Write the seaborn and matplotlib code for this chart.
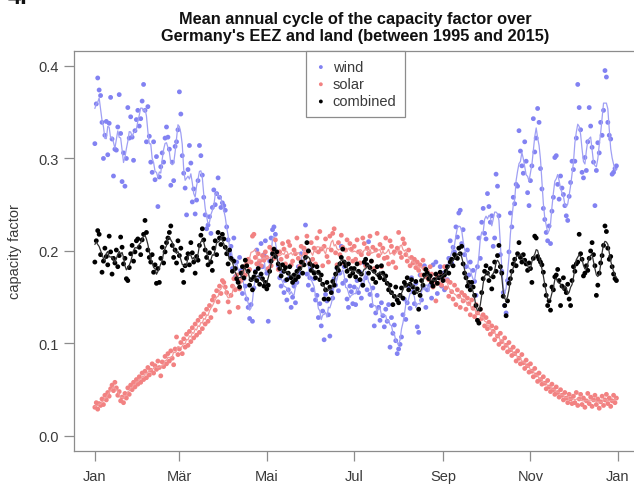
import numpy as np
import pandas as pd
import matplotlib
matplotlib.use("Agg")
import matplotlib.pyplot as plt
import seaborn as sns

# daily mean capacity factor, 1 Jan .. 31 Dec
wind = [
    # Jan
    0.316, 0.359, 0.387, 0.374, 0.368, 0.339, 0.300, 0.325, 0.340, 0.304,
    0.338, 0.366, 0.321, 0.281, 0.310, 0.309, 0.334, 0.369, 0.327, 0.275,
    0.306, 0.270, 0.300, 0.355, 0.322, 0.345, 0.323, 0.298, 0.330, 0.342, 0.352,
    # Feb
    0.335, 0.343, 0.362, 0.380, 0.352, 0.318, 0.356, 0.324, 0.296, 0.285,
    0.318, 0.277, 0.302, 0.248, 0.280, 0.291, 0.306, 0.296, 0.322, 0.334,
    0.323, 0.310, 0.271, 0.296, 0.276, 0.313, 0.318, 0.331,
    # Mar
    0.372, 0.348, 0.303, 0.284, 0.268, 0.239, 0.288, 0.314, 0.295, 0.253,
    0.267, 0.240, 0.255, 0.276, 0.314, 0.303, 0.282, 0.258, 0.239, 0.224,
    0.228, 0.237, 0.219, 0.247, 0.266, 0.250, 0.262, 0.279, 0.258, 0.247, 0.252,
    # Apr
    0.249, 0.244, 0.226, 0.212, 0.196, 0.205, 0.181, 0.214, 0.172, 0.188,
    0.167, 0.193, 0.179, 0.154, 0.170, 0.162, 0.148, 0.139, 0.127, 0.142,
    0.124, 0.160, 0.178, 0.201, 0.186, 0.172, 0.208, 0.183, 0.196, 0.211,
    # May
    0.176, 0.124, 0.189, 0.214, 0.223, 0.226, 0.218, 0.196, 0.184, 0.171,
    0.162, 0.178, 0.155, 0.168, 0.147, 0.158, 0.171, 0.139, 0.150, 0.162,
    0.144, 0.166, 0.183, 0.176, 0.197, 0.188, 0.202, 0.228, 0.175, 0.163, 0.171,
    # Jun
    0.181, 0.158, 0.170, 0.147, 0.152, 0.128, 0.143, 0.119, 0.135, 0.104,
    0.153, 0.146, 0.131, 0.108, 0.158, 0.149, 0.170, 0.163, 0.181, 0.157,
    0.176, 0.205, 0.165, 0.183, 0.168, 0.148, 0.139, 0.162, 0.156, 0.143,
    # Jul
    0.161, 0.142, 0.168, 0.155, 0.177, 0.149, 0.163, 0.187, 0.171, 0.158,
    0.210, 0.153, 0.141, 0.160, 0.119, 0.133, 0.152, 0.139, 0.125, 0.144,
    0.130, 0.118, 0.137, 0.124, 0.142, 0.096, 0.128, 0.111, 0.120, 0.103, 0.089,
    # Aug
    0.094, 0.099, 0.107, 0.131, 0.148, 0.126, 0.144, 0.162, 0.138, 0.171,
    0.156, 0.143, 0.165, 0.118, 0.112, 0.174, 0.147, 0.161, 0.184, 0.139,
    0.158, 0.172, 0.163, 0.149, 0.185, 0.166, 0.188, 0.154, 0.171, 0.183, 0.162,
    # Sep
    0.176, 0.158, 0.183, 0.169, 0.192, 0.211, 0.187, 0.204, 0.199, 0.226,
    0.215, 0.241, 0.244, 0.208, 0.223, 0.196, 0.183, 0.201, 0.174, 0.188,
    0.161, 0.179, 0.167, 0.152, 0.183, 0.214, 0.192, 0.231, 0.246, 0.219,
    # Oct
    0.213, 0.262, 0.248, 0.231, 0.238, 0.205, 0.214, 0.283, 0.270, 0.238,
    0.196, 0.178, 0.155, 0.141, 0.133, 0.168, 0.199, 0.241, 0.226, 0.258,
    0.251, 0.272, 0.270, 0.330, 0.308, 0.292, 0.284, 0.318, 0.297, 0.263, 0.249,
    # Nov
    0.276, 0.292, 0.343, 0.307, 0.322, 0.354, 0.339, 0.289, 0.267, 0.246,
    0.234, 0.220, 0.211, 0.227, 0.208, 0.243, 0.258, 0.301, 0.303, 0.272,
    0.256, 0.281, 0.268, 0.261, 0.249, 0.238, 0.233, 0.259, 0.274, 0.297,
    # Dec
    0.288, 0.297, 0.322, 0.380, 0.355, 0.331, 0.285, 0.279, 0.301, 0.287,
    0.318, 0.355, 0.335, 0.312, 0.296, 0.249, 0.287, 0.317, 0.306, 0.339,
    0.325, 0.352, 0.395, 0.388, 0.339, 0.325, 0.321, 0.283, 0.285, 0.289, 0.292,
]

solar = [
    # Jan
    0.031, 0.036, 0.029, 0.035, 0.033, 0.040, 0.034, 0.044, 0.039, 0.047,
    0.043, 0.051, 0.055, 0.049, 0.058, 0.052, 0.044, 0.048, 0.038, 0.042,
    0.036, 0.046, 0.041, 0.052, 0.045, 0.055, 0.050, 0.058, 0.053, 0.061, 0.056,
    # Feb
    0.064, 0.058, 0.068, 0.061, 0.070, 0.063, 0.074, 0.066, 0.071, 0.078,
    0.068, 0.076, 0.072, 0.081, 0.074, 0.065, 0.080, 0.075, 0.086, 0.078,
    0.089, 0.081, 0.092, 0.084, 0.077, 0.094, 0.107, 0.088,
    # Mar
    0.094, 0.101, 0.089, 0.105, 0.096, 0.110, 0.098, 0.113, 0.102, 0.117,
    0.106, 0.121, 0.109, 0.125, 0.112, 0.129, 0.116, 0.132, 0.121, 0.137,
    0.124, 0.141, 0.128, 0.147, 0.151, 0.136, 0.157, 0.145, 0.162, 0.154, 0.168,
    # Apr
    0.166, 0.161, 0.155, 0.145, 0.134, 0.152, 0.162, 0.170, 0.158, 0.174,
    0.139, 0.159, 0.168, 0.177, 0.183, 0.174, 0.186, 0.191, 0.180, 0.188,
    0.216, 0.218, 0.193, 0.186, 0.197, 0.189, 0.184, 0.195, 0.190, 0.199,
    # May
    0.193, 0.181, 0.204, 0.184, 0.201, 0.192, 0.212, 0.196, 0.180, 0.199,
    0.191, 0.208, 0.202, 0.186, 0.194, 0.210, 0.206, 0.185, 0.189, 0.201,
    0.197, 0.214, 0.192, 0.183, 0.205, 0.188, 0.203, 0.197, 0.216, 0.200, 0.187,
    # Jun
    0.209, 0.191, 0.203, 0.186, 0.214, 0.199, 0.221, 0.202, 0.184, 0.205,
    0.213, 0.194, 0.188, 0.216, 0.201, 0.219, 0.224, 0.198, 0.185, 0.209,
    0.196, 0.217, 0.204, 0.187, 0.201, 0.212, 0.192, 0.208, 0.202, 0.189,
    # Jul
    0.205, 0.191, 0.212, 0.199, 0.187, 0.196, 0.214, 0.208, 0.184, 0.203,
    0.197, 0.216, 0.189, 0.204, 0.181, 0.201, 0.219, 0.195, 0.207, 0.183,
    0.203, 0.192, 0.214, 0.193, 0.186, 0.211, 0.205, 0.188, 0.199, 0.182, 0.203,
    # Aug
    0.220, 0.198, 0.193, 0.213, 0.208, 0.196, 0.189, 0.201, 0.184, 0.193,
    0.187, 0.191, 0.182, 0.188, 0.179, 0.185, 0.174, 0.190, 0.181, 0.172,
    0.178, 0.169, 0.183, 0.175, 0.161, 0.168, 0.146, 0.172, 0.165, 0.176, 0.163,
    # Sep
    0.172, 0.183, 0.160, 0.168, 0.151, 0.166, 0.156, 0.148, 0.163, 0.142,
    0.158, 0.151, 0.139, 0.155, 0.146, 0.152, 0.137, 0.149, 0.143, 0.131,
    0.147, 0.138, 0.129, 0.142, 0.133, 0.124, 0.137, 0.127, 0.131, 0.119,
    # Oct
    0.128, 0.116, 0.123, 0.110, 0.119, 0.113, 0.104, 0.117, 0.108, 0.099,
    0.111, 0.102, 0.095, 0.106, 0.098, 0.091, 0.101, 0.093, 0.087, 0.096,
    0.089, 0.081, 0.092, 0.084, 0.078, 0.088, 0.079, 0.073, 0.082, 0.076, 0.069,
    # Nov
    0.078, 0.070, 0.064, 0.073, 0.066, 0.059, 0.068, 0.061, 0.056, 0.064,
    0.057, 0.051, 0.060, 0.053, 0.048, 0.056, 0.050, 0.045, 0.053, 0.047,
    0.042, 0.050, 0.044, 0.039, 0.047, 0.041, 0.036, 0.045, 0.040, 0.035,
    # Dec
    0.043, 0.036, 0.047, 0.033, 0.040, 0.045, 0.034, 0.041, 0.031, 0.038,
    0.046, 0.035, 0.042, 0.032, 0.039, 0.044, 0.034, 0.040, 0.030, 0.037,
    0.043, 0.033, 0.039, 0.045, 0.035, 0.041, 0.032, 0.038, 0.044, 0.036, 0.041,
]

combined = [
    # Jan
    0.188, 0.211, 0.222, 0.218, 0.196, 0.177, 0.189, 0.203, 0.194, 0.185,
    0.216, 0.199, 0.175, 0.192, 0.187, 0.201, 0.183, 0.195, 0.215, 0.204,
    0.186, 0.192, 0.170, 0.168, 0.182, 0.197, 0.206, 0.189, 0.199, 0.211, 0.213,
    # Feb
    0.204, 0.196, 0.212, 0.218, 0.233, 0.220, 0.201, 0.193, 0.188, 0.196,
    0.177, 0.185, 0.165, 0.181, 0.166, 0.192, 0.204, 0.187, 0.199, 0.209,
    0.214, 0.220, 0.227, 0.206, 0.193, 0.201, 0.187, 0.211,
    # Mar
    0.195, 0.203, 0.179, 0.166, 0.184, 0.192, 0.197, 0.185, 0.209, 0.198,
    0.188, 0.176, 0.194, 0.190, 0.206, 0.217, 0.224, 0.212, 0.201, 0.193,
    0.185, 0.198, 0.188, 0.179, 0.203, 0.211, 0.196, 0.220, 0.214, 0.207, 0.218,
    # Apr
    0.213, 0.204, 0.197, 0.186, 0.201, 0.192, 0.178, 0.189, 0.181, 0.170,
    0.166, 0.161, 0.176, 0.183, 0.171, 0.190, 0.184, 0.178, 0.163, 0.169,
    0.158, 0.172, 0.177, 0.168, 0.181, 0.164, 0.175, 0.170, 0.162, 0.166,
    # May
    0.159, 0.163, 0.178, 0.189, 0.197, 0.202, 0.194, 0.199, 0.186, 0.181,
    0.173, 0.185, 0.178, 0.182, 0.169, 0.176, 0.183, 0.171, 0.166, 0.174,
    0.169, 0.178, 0.172, 0.181, 0.188, 0.176, 0.185, 0.193, 0.209, 0.200, 0.186,
    # Jun
    0.179, 0.184, 0.176, 0.171, 0.183, 0.177, 0.169, 0.174, 0.164, 0.148,
    0.158, 0.166, 0.148, 0.161, 0.155, 0.167, 0.163, 0.175, 0.182, 0.179,
    0.186, 0.193, 0.202, 0.188, 0.184, 0.178, 0.186, 0.173, 0.181, 0.176,
    # Jul
    0.181, 0.172, 0.186, 0.178, 0.169, 0.175, 0.163, 0.188, 0.191, 0.185,
    0.176, 0.182, 0.189, 0.170, 0.178, 0.166, 0.183, 0.174, 0.171, 0.184,
    0.176, 0.169, 0.173, 0.165, 0.158, 0.163, 0.155, 0.142, 0.151, 0.161, 0.147,
    # Aug
    0.144, 0.152, 0.160, 0.149, 0.166, 0.163, 0.171, 0.158, 0.164, 0.169,
    0.161, 0.155, 0.167, 0.159, 0.137, 0.152, 0.168, 0.163, 0.174, 0.180,
    0.176, 0.170, 0.173, 0.166, 0.162, 0.169, 0.175, 0.165, 0.171, 0.177, 0.172,
    # Sep
    0.168, 0.174, 0.178, 0.183, 0.176, 0.188, 0.191, 0.184, 0.196, 0.193,
    0.192, 0.203, 0.197, 0.205, 0.186, 0.176, 0.171, 0.162, 0.166, 0.158,
    0.166, 0.161, 0.152, 0.141, 0.125, 0.122, 0.137, 0.155, 0.170, 0.178,
    # Oct
    0.184, 0.176, 0.168, 0.181, 0.159, 0.172, 0.188, 0.178, 0.195, 0.206,
    0.183, 0.176, 0.151, 0.141, 0.130, 0.146, 0.165, 0.170, 0.178, 0.186,
    0.191, 0.184, 0.197, 0.209, 0.193, 0.188, 0.196, 0.190, 0.186, 0.179, 0.187,
    # Nov
    0.181, 0.166, 0.192, 0.216, 0.214, 0.194, 0.191, 0.188, 0.185, 0.177,
    0.163, 0.152, 0.141, 0.146, 0.136, 0.161, 0.158, 0.172, 0.174, 0.180,
    0.168, 0.141, 0.162, 0.171, 0.159, 0.155, 0.164, 0.148, 0.141, 0.168,
    # Dec
    0.183, 0.178, 0.186, 0.188, 0.218, 0.197, 0.191, 0.173, 0.176, 0.184,
    0.179, 0.192, 0.200, 0.209, 0.196, 0.184, 0.152, 0.163, 0.176, 0.187,
    0.195, 0.206, 0.227, 0.221, 0.203, 0.191, 0.194, 0.183, 0.175, 0.170, 0.168,
]

series_names = ["wind", "solar", "combined"]
month_ticks = [0, 59, 120, 181, 243, 304, 365]
month_labels = ["Jan", "Mär", "Mai", "Jul", "Sep", "Nov", "Jan"]
y_ticks = [0.0, 0.1, 0.2, 0.3, 0.4]

point_col = {"wind": "#8282f2", "solar": "#f28282", "combined": "#000000"}
line_col = {"wind": "#a0a0f4", "solar": "#f29a9a", "combined": "#333333"}

# build long dataframe, with a 5-day running mean as the thin line
frames = []
for name, vals in zip(series_names, [wind, solar, combined]):
    d = pd.DataFrame({"day": np.arange(len(vals)), "cf": vals})
    d["smooth"] = d["cf"].rolling(5, center=True, min_periods=1).mean()
    d["series"] = name
    frames.append(d)
df = pd.concat(frames, ignore_index=True)

sns.set_style("white")
plt.rcParams["font.family"] = ["Liberation Sans", "DejaVu Sans"]

fig = plt.figure(figsize=(6.34, 4.85), dpi=100)
ax = fig.add_axes([0.1167, 0.0685, 0.8885, 0.824])

for i, name in enumerate(series_names):
    sub = df[df["series"] == name]
    sns.scatterplot(data=sub, x="day", y="cf", color=point_col[name], s=12,
                    edgecolor="none", linewidth=0, label=name, ax=ax,
                    zorder=3 + 2 * i)
    sns.lineplot(data=sub, x="day", y="smooth", color=line_col[name],
                 linewidth=0.9, estimator=None, ax=ax, zorder=4 + 2 * i)

ax.set_xlim(-14.56, 378.56)
ax.set_ylim(-0.016, 0.416)
ax.set_xticks(month_ticks)
ax.set_xticklabels(month_labels)
ax.set_yticks(y_ticks)
ax.set_yticklabels([f"{v:.1f}" for v in y_ticks])
ax.set_xlabel("")
ax.set_ylabel("capacity factor", fontsize=10.5, color="#3a3a3a")
ax.yaxis.set_label_coords(-0.092, 0.5)

for sp in ax.spines.values():
    sp.set_visible(True)
    sp.set_color("#8c8c8c")
    sp.set_linewidth(0.9)
ax.tick_params(direction="out", length=7, width=0.9, color="#8c8c8c",
               labelcolor="#3a3a3a", labelsize=10.5,
               bottom=True, left=True, top=False, right=False)
ax.tick_params(axis="x", pad=6)
ax.tick_params(axis="y", pad=4)

ax.set_title("Mean annual cycle of the capacity factor over\n"
             "Germany's EEZ and land (between 1995 and 2015)",
             fontsize=11.8, fontweight="bold", color="#111111", pad=8,
             linespacing=1.2)

handles, labels = ax.get_legend_handles_labels()
keep = [(h, l) for h, l in zip(handles, labels) if l in series_names]
leg = ax.legend([h for h, _ in keep], [l for _, l in keep],
                loc="upper center", bbox_to_anchor=(0.5, 1.0),
                borderaxespad=0, fancybox=False, fontsize=10.5,
                markerscale=0.8, handletextpad=0.4, handlelength=0.8,
                labelspacing=0.22, borderpad=0.6, framealpha=1)
leg.get_frame().set_edgecolor("#8c8c8c")
leg.get_frame().set_linewidth(0.9)
for t in leg.get_texts():
    t.set_color("#3a3a3a")

fig.text(0.012, 0.9918, "4.", fontsize=17, fontweight="bold",
         va="baseline", ha="left", color="#111111")

fig.savefig("out.png", dpi=100, facecolor="white")
